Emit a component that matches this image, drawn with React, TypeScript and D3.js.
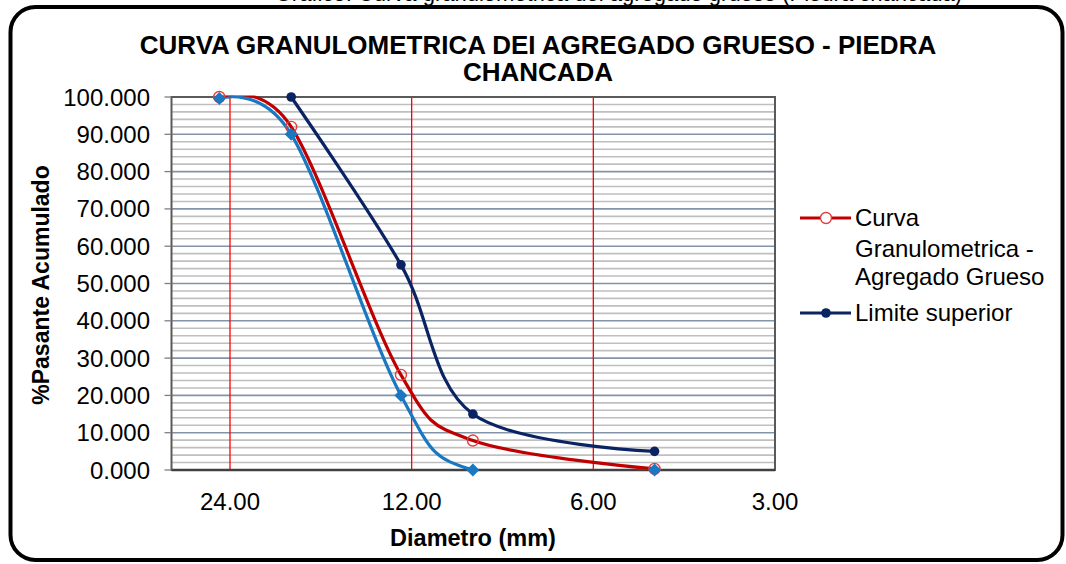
import React from "react";
import * as d3 from "d3";

const diameters = [25, 19, 12.5, 9.5, 4.75];
const curvaValues = [100, 92.0, 25.5, 7.9, 0.3];
const superiorDiameters = [19, 12.5, 9.5, 4.75];
const superiorValues = [100, 55, 15, 5];
const inferiorValues = [99.6, 90, 20, 0, 0];
const xTicks = [24, 12, 6, 3];
const yMajor = [0, 10, 20, 30, 40, 50, 60, 70, 80, 90, 100];
const yMinor = d3.range(0, 101, 2);

const W = 1066, H = 564;
const L = 171.5, R = 775, T = 97, B = 470;
const FONT = "Liberation Sans, Arial, sans-serif";

export default function App() {
  const x = d3.scaleLog().domain([30, 3]).range([L, R]);
  const y = d3.scaleLinear().domain([0, 100]).range([B, T]);
  const curve = d3.curveCatmullRom.alpha(0);
  const line = d3.line<[number, number]>().x(d => x(d[0])).y(d => y(d[1])).curve(curve);

  const curvaPts: [number, number][] = diameters.map((d, i) => [d, curvaValues[i]]);
  const supPts: [number, number][] = superiorDiameters.map((d, i) => [d, superiorValues[i]]);
  const infPts: [number, number][] = diameters.map((d, i) => [d, inferiorValues[i]]);

  const red = "#c00000", navy = "#0a2463", blue = "#1a78c2";
  const diamond = (cx: number, cy: number, s: number) =>
    `M${cx},${cy - s}L${cx + s},${cy}L${cx},${cy + s}L${cx - s},${cy}Z`;

  return (
    <svg width={W} height={H} style={{ position: "absolute", left: 0, top: 0, background: "#fff" }} fontFamily={FONT}>
      <defs>
        <clipPath id="plotclip">
          <rect x={L} y={T - 1.5} width={R - L} height={B - T + 1.5} />
        </clipPath>
      </defs>
      <text x={962} y={1} fontSize={22} textAnchor="end" fill="#000">Gráfico: Curva granulométrica del agregado grueso (Piedra chancada)</text>
      <rect x={10.5} y={7} width={1052} height={553} rx={25} ry={25} fill="#fff" stroke="#000" strokeWidth={4} />

      {/* title */}
      <text x={538} y={54} fontSize={26} fontWeight="bold" textAnchor="middle">CURVA GRANULOMETRICA DEI AGREGADO GRUESO - PIEDRA</text>
      <text x={538} y={81} fontSize={26} fontWeight="bold" textAnchor="middle">CHANCADA</text>

      {/* plot background & grid */}
      <rect x={L} y={T} width={R - L} height={B - T} fill="#fff" />
      {yMinor.filter(v => v % 10 !== 0).map(v => (
        <line key={"mi" + v} x1={L} x2={R} y1={y(v)} y2={y(v)} stroke="#bfbfbf" strokeWidth={1.6} />
      ))}
      {yMajor.map(v => (
        <line key={"ma" + v} x1={L} x2={R} y1={y(v)} y2={y(v)} stroke="#8393a8" strokeWidth={1.6} />
      ))}
      {xTicks.slice(0, 3).map(v => (
        <line key={"vx" + v} x1={x(v)} x2={x(v)} y1={T} y2={B} stroke="#ff0000" strokeWidth={1.3} />
      ))}
      <rect x={L} y={T} width={R - L} height={B - T} fill="none" stroke="#5a5a5a" strokeWidth={2} />
      <line x1={L} x2={R} y1={B} y2={B} stroke="#404040" strokeWidth={2.5} />

      {/* y ticks & labels */}
      {yMajor.map(v => (
        <g key={"yt" + v}>
          <line x1={L - 7} x2={L} y1={y(v)} y2={y(v)} stroke="#7f7f7f" strokeWidth={1.3} />
          <text x={150} y={y(v) + 8.5} fontSize={24} textAnchor="end" fill="#000">{v.toFixed(3)}</text>
        </g>
      ))}
      {/* x labels */}
      {xTicks.map(v => (
        <text key={"xt" + v} x={x(v)} y={510} fontSize={24} textAnchor="middle" fill="#000">{v.toFixed(2)}</text>
      ))}

      <text x={473} y={546} fontSize={23.5} fontWeight="bold" textAnchor="middle">Diametro (mm)</text>
      <text transform="translate(49,285) rotate(-90)" fontSize={23} fontWeight="bold" textAnchor="middle">%Pasante Acumulado</text>

      {/* series */}
      <g clipPath="url(#plotclip)">
        <path d={line(infPts) || ""} fill="none" stroke={blue} strokeWidth={3.2} />
        <path d={line(curvaPts) || ""} fill="none" stroke={red} strokeWidth={3.2} />
        <path d={line(supPts) || ""} fill="none" stroke={navy} strokeWidth={3.2} />
      </g>
      {curvaPts.map((p, i) => (
        <circle key={"cm" + i} cx={x(p[0])} cy={y(p[1])} r={5.5} fill="none" stroke="#e0403f" strokeWidth={1.4} />
      ))}
      {infPts.map((p, i) => (
        <path key={"im" + i} d={diamond(x(p[0]), y(p[1]), 6.5)} fill={blue} />
      ))}
      {supPts.map((p, i) => (
        <circle key={"sm" + i} cx={x(p[0])} cy={y(p[1])} r={4.8} fill={navy} />
      ))}

      {/* legend */}
      <line x1={800} x2={851} y1={218} y2={218} stroke={red} strokeWidth={3.2} />
      <circle cx={826} cy={218} r={5.5} fill="#fff" stroke="#e0403f" strokeWidth={1.4} />
      <text x={855} y={226} fontSize={24}>Curva</text>
      <text x={855} y={257} fontSize={24}>Granulometrica -</text>
      <text x={855} y={285} fontSize={24}>Agregado Grueso</text>
      <line x1={800} x2={851} y1={313} y2={313} stroke={navy} strokeWidth={3.2} />
      <circle cx={826} cy={313} r={4.8} fill={navy} />
      <text x={855} y={321} fontSize={24}>Limite superior</text>
    </svg>
  );
}
